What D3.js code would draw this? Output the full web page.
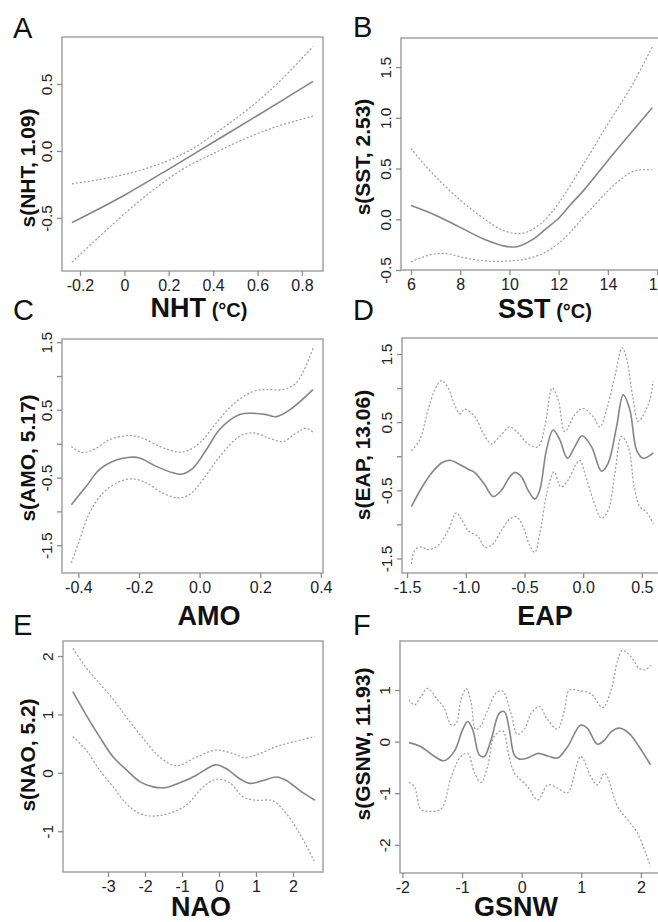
<!DOCTYPE html>
<html><head><meta charset="utf-8">
<script src="https://cdn.jsdelivr.net/npm/d3@7"></script>
<style>body{margin:0;background:#fff}svg{display:block}</style>
</head><body><svg id="c" width="658" height="922"></svg>
<script>
// ---------- DATA ----------
const panelLetters = ["A","B","C","D","E","F"];
const xTitles = ["NHT","SST","AMO","EAP","NAO","GSNW"];
const xTitleUnits = [" (°C)"," (°C)","","","",""];
const yTitles = ["s(NHT, 1.09)","s(SST, 2.53)","s(AMO, 5.17)","s(EAP, 13.06)","s(NAO, 5.2)","s(GSNW, 11.93)"];

const aXTicks = [-0.2,0,0.2,0.4,0.6,0.8];
const aXTickLabels = ["-0.2","0","0.2","0.4","0.6","0.8"];
const aYTicks = [-0.5,0,0.5];
const aYTickLabels = ["-0.5","0.0","0.5"];
const aFit = [[-0.236,-0.535],[0,-0.33],[0.2,-0.135],[0.4,0.065],[0.6,0.265],[0.85,0.52]];
const aUpper = [[-0.236,-0.245],[-0.1,-0.21],[0,-0.175],[0.1,-0.13],[0.2,-0.07],[0.3,0.01],[0.4,0.12],[0.5,0.24],[0.6,0.37],[0.7,0.52],[0.85,0.78]];
const aLower = [[-0.236,-0.83],[-0.1,-0.62],[0,-0.47],[0.1,-0.33],[0.2,-0.205],[0.3,-0.1],[0.4,-0.02],[0.5,0.06],[0.6,0.13],[0.7,0.19],[0.85,0.26]];

const bXTicks = [6,8,10,12,14,16];
const bXTickLabels = ["6","8","10","12","14","16"];
const bYTicks = [-0.5,0,0.5,1,1.5];
const bYTickLabels = ["-0.5","0.0","0.5","1.0","1.5"];
const bFit = [[6,0.135],[7,0.04],[8,-0.08],[9,-0.2],[9.8,-0.265],[10.3,-0.27],[11,-0.19],[11.5,-0.09],[12,0.01],[12.5,0.15],[13,0.28],[14,0.58],[15,0.87],[15.8,1.1]];
const bUpper = [[6,0.70],[6.5,0.55],[7,0.42],[7.5,0.3],[8,0.19],[8.5,0.09],[9,0.0],[9.5,-0.08],[10,-0.13],[10.5,-0.14],[11,-0.09],[11.5,0.01],[12,0.16],[13,0.54],[14,0.94],[15,1.33],[15.8,1.70]];
const bLower = [[6,-0.42],[6.5,-0.37],[7,-0.34],[7.5,-0.34],[8,-0.37],[8.5,-0.395],[9,-0.41],[9.5,-0.415],[10,-0.41],[10.5,-0.4],[11,-0.37],[11.5,-0.32],[12,-0.235],[12.5,-0.12],[13,0.02],[13.5,0.15],[14,0.28],[14.5,0.39],[15,0.47],[15.5,0.49],[15.8,0.485]];

const cXTicks = [-0.4,-0.2,0,0.2,0.4];
const cXTickLabels = ["-0.4","-0.2","0.0","0.2","0.4"];
const cYTicks = [-1.5,-1,-0.5,0,0.5,1,1.5];
const cYTickLabels = ["-1.5","","-0.5","","0.5","","1.5"];
const cFit = [[-0.423,-0.90],[-0.374,-0.63],[-0.33,-0.38],[-0.275,-0.24],[-0.23,-0.20],[-0.198,-0.21],[-0.143,-0.335],[-0.088,-0.43],[-0.06,-0.45],[-0.022,-0.36],[0.022,-0.09],[0.066,0.21],[0.132,0.43],[0.176,0.45],[0.22,0.43],[0.253,0.40],[0.297,0.50],[0.374,0.80]];
const cUpper = [[-0.423,-0.04],[-0.39,-0.13],[-0.35,-0.09],[-0.297,0.06],[-0.23,0.12],[-0.187,0.08],[-0.132,-0.04],[-0.077,-0.12],[-0.044,-0.11],[0,0.01],[0.055,0.305],[0.11,0.58],[0.176,0.77],[0.22,0.80],[0.275,0.80],[0.319,0.90],[0.374,1.41]];
const cLower = [[-0.423,-1.76],[-0.396,-1.42],[-0.363,-1.02],[-0.319,-0.73],[-0.264,-0.56],[-0.22,-0.52],[-0.176,-0.58],[-0.121,-0.73],[-0.071,-0.80],[-0.033,-0.75],[0.011,-0.53],[0.066,-0.19],[0.132,0.11],[0.176,0.16],[0.231,0.08],[0.275,0.03],[0.319,0.16],[0.352,0.23],[0.374,0.17]];

const dXTicks = [-1.5,-1,-0.5,0,0.5];
const dXTickLabels = ["-1.5","-1.0","-0.5","0.0","0.5"];
const dYTicks = [-1.5,-1,-0.5,0,0.5,1,1.5];
const dYTickLabels = ["-1.5","","-0.5","","0.5","","1.5"];
const dFit = [[-1.463,-0.74],[-1.378,-0.47],[-1.293,-0.25],[-1.207,-0.10],[-1.136,-0.06],[-1.065,-0.11],[-0.98,-0.19],[-0.923,-0.24],[-0.838,-0.42],[-0.767,-0.59],[-0.696,-0.50],[-0.625,-0.30],[-0.582,-0.24],[-0.526,-0.30],[-0.469,-0.50],[-0.412,-0.63],[-0.37,-0.50],[-0.313,0.09],[-0.256,0.385],[-0.199,0.24],[-0.134,-0.03],[-0.071,0.14],[-0.009,0.30],[0.071,0.14],[0.156,-0.22],[0.213,-0.10],[0.284,0.43],[0.341,0.90],[0.398,0.68],[0.455,0.09],[0.511,-0.03],[0.597,0.05]];
const dUpper = [[-1.463,0.08],[-1.392,0.24],[-1.321,0.68],[-1.264,0.97],[-1.207,1.11],[-1.15,1.0],[-1.094,0.75],[-1.051,0.62],[-1.009,0.69],[-0.923,0.58],[-0.852,0.34],[-0.781,0.18],[-0.71,0.29],[-0.625,0.43],[-0.554,0.34],[-0.469,0.18],[-0.384,0.14],[-0.327,0.43],[-0.264,1.0],[-0.213,0.83],[-0.156,0.36],[-0.071,0.61],[0,0.70],[0.085,0.58],[0.142,0.43],[0.199,0.68],[0.27,1.17],[0.332,1.59],[0.369,1.44],[0.426,0.83],[0.469,0.51],[0.526,0.65],[0.568,0.83],[0.597,1.10]];
const dLower = [[-1.463,-1.58],[-1.435,-1.38],[-1.378,-1.33],[-1.321,-1.37],[-1.236,-1.31],[-1.15,-1.09],[-1.08,-0.83],[-1.037,-0.92],[-0.98,-1.09],[-0.895,-1.18],[-0.838,-1.33],[-0.781,-1.31],[-0.696,-1.09],[-0.625,-0.92],[-0.568,-0.89],[-0.511,-1.04],[-0.455,-1.31],[-0.412,-1.41],[-0.37,-1.14],[-0.298,-0.45],[-0.247,-0.23],[-0.19,-0.45],[-0.128,-0.35],[-0.071,-0.15],[-0.028,-0.06],[0.014,-0.25],[0.085,-0.64],[0.156,-0.91],[0.213,-0.79],[0.27,-0.25],[0.327,0.29],[0.384,0.14],[0.435,-0.45],[0.483,-0.74],[0.54,-0.82],[0.597,-0.99]];

const eXTicks = [-3,-2,-1,0,1,2];
const eXTickLabels = ["-3","-2","-1","0","1","2"];
const eYTicks = [-1,0,1,2];
const eYTickLabels = ["-1","0","1","2"];
const eFit = [[-3.95,1.39],[-3.59,0.99],[-3.23,0.62],[-2.86,0.27],[-2.5,0.05],[-2.14,-0.15],[-1.78,-0.24],[-1.42,-0.25],[-1.06,-0.17],[-0.61,-0.04],[-0.25,0.10],[-0.07,0.14],[0.2,0.07],[0.56,-0.10],[0.83,-0.18],[1.19,-0.13],[1.55,-0.07],[1.82,-0.13],[2.18,-0.30],[2.59,-0.47]];
const eUpper = [[-3.95,2.13],[-3.59,1.8],[-3.23,1.53],[-2.86,1.26],[-2.5,0.95],[-2.05,0.59],[-1.6,0.27],[-1.15,0.12],[-0.61,0.27],[-0.07,0.39],[0.38,0.33],[0.69,0.26],[1.1,0.33],[1.55,0.45],[2.0,0.53],[2.59,0.62]];
const eLower = [[-3.95,0.62],[-3.59,0.39],[-3.23,0.05],[-2.86,-0.24],[-2.5,-0.53],[-2.14,-0.70],[-1.78,-0.74],[-1.33,-0.69],[-0.88,-0.55],[-0.43,-0.24],[-0.07,-0.11],[0.29,-0.17],[0.65,-0.41],[1.0,-0.47],[1.46,-0.48],[1.82,-0.70],[2.18,-1.04],[2.59,-1.53]];

const fXTicks = [-2,-1,0,1,2];
const fXTickLabels = ["-2","-1","0","1","2"];
const fYTicks = [-2,-1,0,1];
const fYTickLabels = ["-2","-1","0","1"];
const fFit = [[-1.89,-0.02],[-1.69,-0.10],[-1.46,-0.29],[-1.3,-0.37],[-1.13,-0.19],[-0.99,0.23],[-0.905,0.39],[-0.82,0.23],[-0.71,-0.26],[-0.626,-0.29],[-0.514,0.03],[-0.374,0.55],[-0.29,0.58],[-0.207,0.23],[-0.123,-0.26],[-0.04,-0.34],[0.1,-0.32],[0.27,-0.23],[0.44,-0.28],[0.6,-0.32],[0.77,-0.10],[0.99,0.32],[1.1,0.26],[1.27,-0.05],[1.39,0.03],[1.50,0.19],[1.64,0.26],[1.80,0.16],[1.97,-0.10],[2.16,-0.45]];
const fUpper = [[-1.89,0.81],[-1.8,0.71],[-1.69,0.87],[-1.58,1.03],[-1.41,0.81],[-1.3,0.65],[-1.18,0.32],[-1.1,0.35],[-1.02,0.81],[-0.93,1.03],[-0.85,0.77],[-0.77,0.23],[-0.68,0.32],[-0.57,0.61],[-0.43,0.94],[-0.32,0.98],[-0.18,0.55],[-0.07,0.14],[0.05,0.25],[0.16,0.55],[0.3,0.68],[0.42,0.45],[0.6,0.24],[0.72,0.62],[0.8,1.0],[0.95,0.99],[1.16,0.93],[1.36,0.66],[1.50,1.0],[1.61,1.58],[1.69,1.77],[1.83,1.65],[1.97,1.42],[2.08,1.39],[2.16,1.48]];
const fLower = [[-1.89,-0.79],[-1.80,-0.87],[-1.69,-1.32],[-1.58,-1.35],[-1.41,-1.34],[-1.32,-1.26],[-1.18,-0.68],[-1.02,-0.29],[-0.905,-0.23],[-0.79,-0.61],[-0.68,-0.79],[-0.57,-0.48],[-0.46,0.10],[-0.32,0.21],[-0.21,-0.29],[-0.12,-0.61],[0.1,-0.87],[0.27,-1.13],[0.44,-0.84],[0.6,-0.90],[0.77,-0.99],[0.99,-0.29],[1.16,-0.68],[1.27,-0.84],[1.39,-0.61],[1.61,-1.26],[1.78,-1.52],[1.94,-1.77],[2.08,-2.16],[2.16,-2.42]];

// ---------- LAYOUT ----------
const FONT = "'Liberation Sans', Arial, Helvetica, sans-serif";
const layout = [
  {box:[62,37,323,271],  xd:[-0.281,0.895], yd:[-0.896,0.851], xt:aXTicks, xl:aXTickLabels, yt:aYTicks, yl:aYTickLabels, fit:aFit, up:aUpper, lo:aLower, letter:[13,38], xT:[199,317], yT:[35,168]},
  {box:[401,38,667,270], xd:[5.594,16.4],   yd:[-0.5,1.787],   xt:bXTicks, xl:bXTickLabels, yt:bYTicks, yl:bYTickLabels, fit:bFit, up:bUpper, lo:bLower, letter:[353,37], xT:[545,318], yT:[370,157]},
  {box:[62,339,323,573], xd:[-0.454,0.407], yd:[-1.91,1.547],  xt:cXTicks, xl:cXTickLabels, yt:cYTicks, yl:cYTickLabels, fit:cFit, up:cUpper, lo:cLower, letter:[13,320], xT:[209,625], yT:[35,458]},
  {box:[402,338,663,573],xd:[-1.543,0.68],  yd:[-1.713,1.734], xt:dXTicks, xl:dXTickLabels, yt:dYTicks, yl:dYTickLabels, fit:dFit, up:dUpper, lo:dLower, letter:[353,320], xT:[545,625], yT:[370,455]},
  {box:[63,641,323,872], xd:[-4.216,2.81],  yd:[-1.698,2.258], xt:eXTicks, xl:eXTickLabels, yt:eYTicks, yl:eYTickLabels, fit:eFit, up:eUpper, lo:eLower, letter:[13,635], xT:[201,916], yT:[35,755]},
  {box:[400,641,660,873],xd:[-2.04,2.32],   yd:[-2.547,1.949], xt:fXTicks, xl:fXTickLabels, yt:fYTicks, yl:fYTickLabels, fit:fFit, up:fUpper, lo:fLower, letter:[353,635], xT:[516,916], yT:[370,744]}
];

const svg = d3.select("#c");
svg.append("rect").attr("width",658).attr("height",922).attr("fill","#fff");

layout.forEach((p,i)=>{
  const [l,t,r,b] = p.box;
  const x = d3.scaleLinear().domain(p.xd).range([l,r]);
  const y = d3.scaleLinear().domain(p.yd).range([b,t]);
  const g = svg.append("g");
  const line = d3.line().x(d=>x(d[0])).y(d=>y(d[1])).curve(d3.curveCatmullRom.alpha(0.5));

  [p.up,p.lo].forEach(s=>{
    g.append("path").attr("d",line(s)).attr("fill","none")
      .attr("stroke","#9a9a9a").attr("stroke-width",1.2).attr("stroke-dasharray","2,2");
  });
  g.append("path").attr("d",line(p.fit)).attr("fill","none")
    .attr("stroke","#858585").attr("stroke-width",1.6);

  g.append("rect").attr("x",l).attr("y",t).attr("width",r-l).attr("height",b-t)
    .attr("fill","none").attr("stroke","#a2a2a2").attr("stroke-width",1.5);

  // x axis
  const xa = g.append("g").attr("transform",`translate(0,${b})`)
    .call(d3.axisBottom(x).tickValues(p.xt).tickFormat((d,k)=>p.xl[k]).tickSize(5).tickSizeOuter(0).tickPadding(4));
  xa.select(".domain").remove();
  xa.selectAll(".tick line").attr("stroke","#8c8c8c").attr("stroke-width",1.3);
  xa.selectAll(".tick text").attr("font-family",FONT).attr("font-size",16).attr("fill","#222")
    .attr("y",null).attr("dy",null).attr("transform","translate(0,20)");

  // y axis
  const ya = g.append("g").attr("transform",`translate(${l},0)`)
    .call(d3.axisLeft(y).tickValues(p.yt).tickFormat((d,k)=>p.yl[k]).tickSize(5).tickSizeOuter(0));
  ya.select(".domain").remove();
  ya.selectAll(".tick line").attr("stroke","#8c8c8c").attr("stroke-width",1.3);
  ya.selectAll(".tick text").attr("font-family",FONT).attr("font-size",15.5).attr("fill","#222")
    .attr("x",null).attr("dy",null).attr("text-anchor","middle")
    .attr("transform","translate(-10,0) rotate(-90)");

  // panel letter
  svg.append("text").attr("x",p.letter[0]).attr("y",p.letter[1])
    .attr("font-family",FONT).attr("font-size",29).attr("fill","#111").text(panelLetters[i]);

  // x title
  const xt = svg.append("text").attr("x",p.xT[0]).attr("y",p.xT[1]).attr("text-anchor","middle")
    .attr("font-family",FONT).attr("font-weight","bold").attr("fill","#111");
  xt.append("tspan").attr("font-size",27).text(xTitles[i]);
  if (xTitleUnits[i]) xt.append("tspan").attr("font-size",20).text(xTitleUnits[i]);

  // y title
  svg.append("text").attr("transform",`translate(${p.yT[0]},${p.yT[1]}) rotate(-90)`)
    .attr("text-anchor","middle").attr("font-family",FONT).attr("font-weight","bold")
    .attr("font-size",21).attr("fill","#111").text(yTitles[i]);
});
</script>
</body></html>
